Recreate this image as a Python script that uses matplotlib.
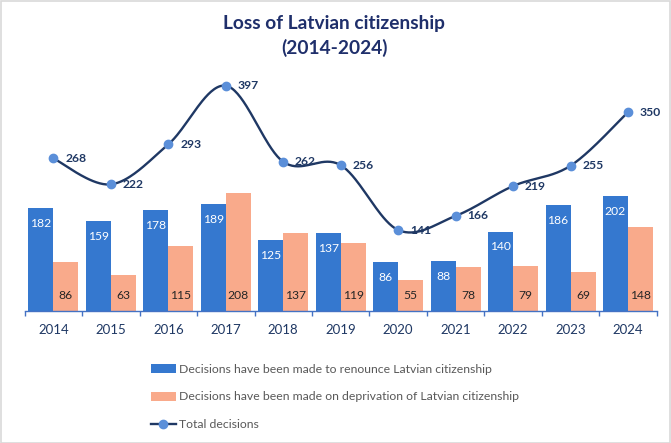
import numpy as np
import matplotlib
matplotlib.use("Agg")
import matplotlib.pyplot as plt
from matplotlib.patches import Rectangle, Patch
from matplotlib.lines import Line2D

years = ['2014', '2015', '2016', '2017', '2018', '2019', '2020', '2021', '2022', '2023', '2024']
renounce = [182, 159, 178, 189, 125, 137, 86, 88, 140, 186, 202]
deprivation = [86, 63, 115, 208, 137, 119, 55, 78, 79, 69, 148]
total = [268, 222, 293, 397, 262, 256, 141, 166, 219, 255, 350]

label_renounce = 'Decisions have been made to renounce Latvian citizenship'
label_depriv = 'Decisions have been made on deprivation of Latvian citizenship'
label_total = 'Total decisions'

plt.rcParams['font.family'] = ['Lato', 'DejaVu Sans']

BLUE = '#3578CF'
SALMON = '#F9AA8B'
NAVY = '#1F3864'
MARKER = '#5B8FD9'
AXIS = '#4472C4'

W, H = 671, 443
fig = plt.figure(figsize=(W / 100, H / 100), dpi=100)
fig.patch.set_facecolor('white')
ax = fig.add_axes([24.7 / W, (H - 311) / H, 632 / W, (311 - 75) / H])
ax2 = ax.twinx()

n = len(years)
x = np.arange(n)
bw = 0.435
b1 = ax.bar(x - bw / 2, renounce, bw, color=BLUE, zorder=2)
b2 = ax.bar(x + bw / 2, deprivation, bw, color=SALMON, zorder=2)
ax.set_xlim(-0.5, n - 0.5)
ax.set_ylim(0, 416)
ax2.set_ylim(-2.7, 416)

for xi, v in zip(x - bw / 2, renounce):
    ax.annotate(str(v), (xi, v), xytext=(0, -11), textcoords='offset points',
                ha='center', va='center', color='white', fontsize=8.7)
for xi, v in zip(x + bw / 2, deprivation):
    ax.annotate(str(v), (xi, 0), xytext=(0, 11.5), textcoords='offset points',
                ha='center', va='center', color='#262626', fontsize=8.7)

# smoothed line (Catmull-Rom / Bezier, like spreadsheet smoothing)
P = np.column_stack([x, np.array(total, dtype=float)])
ext = np.vstack([P[0], P, P[-1]])
xs, ys = [], []
tt = np.linspace(0, 1, 40)
for i in range(n - 1):
    p0 = ext[i + 1]
    p3 = ext[i + 2]
    c1 = p0 + (ext[i + 2] - ext[i]) / 6
    c2 = p3 - (ext[i + 3] - ext[i + 1]) / 6
    seg = ((1 - tt)[:, None] ** 3 * p0 + 3 * ((1 - tt) ** 2 * tt)[:, None] * c1
           + 3 * ((1 - tt) * tt ** 2)[:, None] * c2 + (tt ** 3)[:, None] * p3)
    xs.extend(seg[:, 0]); ys.extend(seg[:, 1])
ax2.plot(xs, ys, color=NAVY, lw=1.7, zorder=3, solid_capstyle='round')
ax2.plot(x, total, ls='none', marker='o', ms=6, color=MARKER, zorder=4)
for xi, v in zip(x, total):
    ax2.annotate(str(v), (xi, v), xytext=(8.5, 0), textcoords='offset points',
                 ha='left', va='center', color=NAVY, fontsize=8.7, fontweight='bold')

for a in (ax, ax2):
    for s in ('top', 'right', 'left'):
        a.spines[s].set_visible(False)
    a.set_yticks([])
ax2.spines['bottom'].set_visible(False)
ax.spines['bottom'].set_color(AXIS)
ax.spines['bottom'].set_linewidth(1.0)
ax.set_xticks(x)
ax.set_xticklabels(years, color=NAVY, fontsize=9.5)
ax.tick_params(axis='x', which='major', length=0, pad=9)
ax.set_xticks(np.arange(-0.5, n, 1.0), minor=True)
ax.tick_params(axis='x', which='minor', length=3.5, color=AXIS, width=1.0)
ax.set_facecolor('none')

fig.text(334 / W, 1 - 23 / H, 'Loss of Latvian citizenship', ha='center', va='center',
         fontsize=13.8, fontweight='bold', color='#1F2F6B')
fig.text(334 / W, 1 - 48 / H, '(2014-2024)', ha='center', va='center',
         fontsize=13.8, fontweight='bold', color='#1F2F6B')

handles = [Patch(facecolor=BLUE, edgecolor='none'),
           Patch(facecolor=SALMON, edgecolor='none'),
           Line2D([], [], color=NAVY, lw=1.7, marker='o', ms=6, markerfacecolor=MARKER,
                  markeredgecolor=MARKER)]
leg = fig.legend(handles, [label_renounce, label_depriv, label_total],
                 loc='upper left', bbox_to_anchor=(150.5 / W, 1 - 364 / H),
                 frameon=False, fontsize=8.8, handlelength=2.05, handletextpad=0.28,
                 labelspacing=1.35, borderaxespad=0, borderpad=0)
for t in leg.get_texts():
    t.set_color('#595959')

fig.patches.append(Rectangle((0.5 / W, 0.5 / H), 1 - 1.5 / W, 1 - 1.5 / H,
                             transform=fig.transFigure, fill=False,
                             edgecolor='#D9D9D9', lw=1.2))

fig.savefig('out.png', dpi=100, facecolor='white')
